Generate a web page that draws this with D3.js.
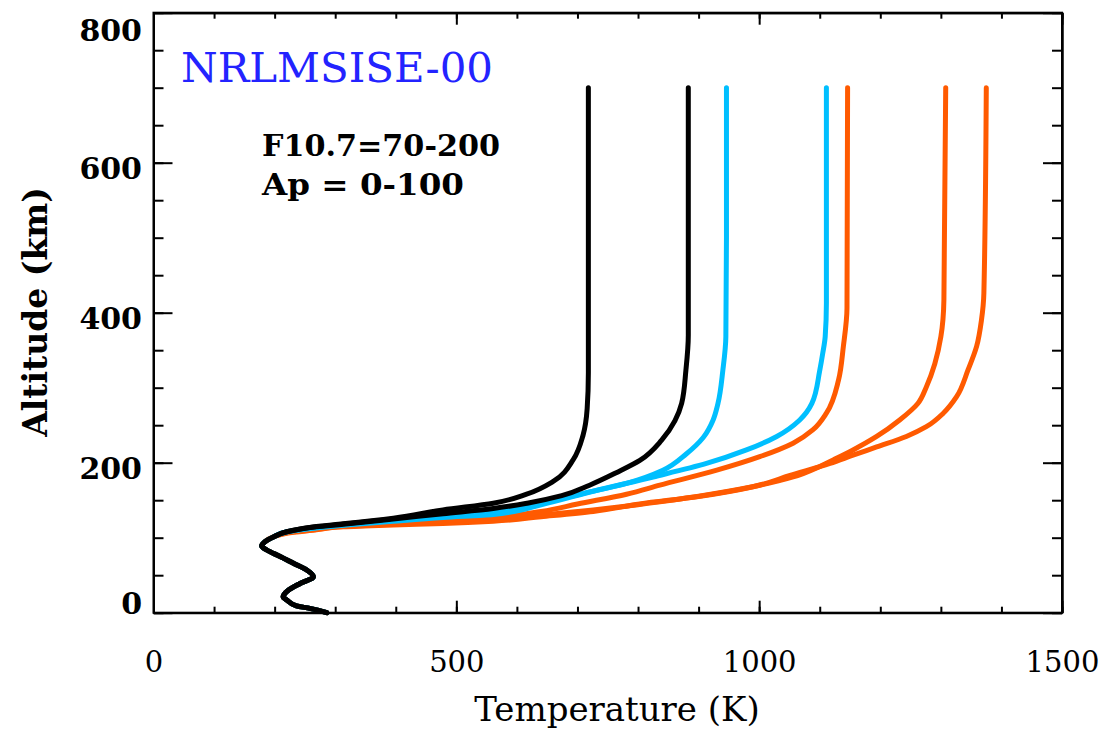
<!DOCTYPE html>
<html>
<head>
<meta charset="utf-8">
<script src="https://cdn.jsdelivr.net/npm/d3@7"></script>
<style>
  html, body { margin: 0; padding: 0; background: #fff; }
  svg { display: block; }
  text { font-family: "DejaVu Serif", "Liberation Serif", serif; }
</style>
</head>
<body>
<svg id="chart" width="1111" height="731"></svg>
<script>
// Temperature profiles (T in K, altitude in km) from NRLMSISE-00.
// Shared troposphere / stratosphere / mesosphere part, identical for all runs.
const lowerAtmosphere = [
  [286, 0], [258, 5.8], [236, 9], [220, 17], [214, 21], [222.6, 30], [242, 39],
  [264, 48], [253, 57], [231, 66], [209, 75], [187, 83.6], [178.6, 89],
  [184, 94.7], [198, 101]
];

// Thermosphere parts, one per solar / geomagnetic condition.
const blackLow = [
  [220, 108], [269, 115], [313, 118.5], [396, 126], [478, 137], [561, 146],
  [616, 158], [660, 175], [693, 204], [709, 236], [716, 272], [718, 320],
  [718, 500], [718, 700]
];
const blackHigh = [
  [220, 108], [269, 114.5], [313, 118], [396, 125], [478, 132], [561, 139],
  [617, 146], [674, 156], [720, 170], [765, 187], [803, 203], [839, 230],
  [861, 256], [872, 279], [879, 323], [883, 370], [883, 500], [883, 700]
];
const blueLow = [
  [220, 108], [269, 113.5], [313, 117], [396, 123.5], [478, 130], [561, 136],
  [640, 146], [704, 158], [781, 172.5], [841, 190], [880, 212], [908, 234],
  [924, 257], [932, 279], [940, 323], [945, 368], [946, 500], [946, 700]
];
const blueHigh = [
  [220, 107.5], [269, 113], [313, 116.5], [396, 122], [478, 127], [561, 131],
  [640, 144], [726, 162], [825, 181], [913, 199], [979, 217], [1029, 235],
  [1067, 257], [1087, 279], [1100, 323], [1105, 346], [1109, 368], [1111, 413],
  [1111, 700]
];
const orangeLow = [
  [220, 107], [269, 112], [313, 116], [396, 119.5], [478, 123], [561, 127],
  [640, 135], [700, 145], [781, 158], [836, 170], [930, 190], [1001, 208],
  [1056, 226], [1089, 244], [1111, 266], [1131, 310], [1139, 355], [1145, 406],
  [1146, 700]
];
const orangeMid = [
  [220, 106.5], [269, 111], [313, 115], [396, 118], [478, 120.5], [561, 123.5],
  [640, 130], [726, 137], [836, 148], [920, 158], [1001, 170], [1056, 181],
  [1100, 195], [1123, 204], [1155, 217], [1194, 235], [1232, 257], [1262, 279],
  [1276, 301], [1290, 332], [1300, 368], [1305, 417], [1308, 700]
];
const orangeHigh = [
  [220, 106], [269, 110.5], [313, 114.5], [396, 117], [478, 119], [561, 122],
  [640, 128], [726, 135], [803, 145], [900, 155], [990, 168], [1051, 183],
  [1117, 199], [1155, 210], [1194, 221], [1243, 235], [1276, 248], [1304, 266],
  [1326, 288], [1345, 324], [1359, 355], [1367, 390], [1371, 426], [1375, 700]
];

// Drawn back to front: hottest runs first, coldest on top.
const profiles = [
  { color: "#ff5a00", upper: orangeHigh },
  { color: "#ff5a00", upper: orangeMid },
  { color: "#ff5a00", upper: orangeLow },
  { color: "#00bfff", upper: blueHigh },
  { color: "#00bfff", upper: blueLow },
  { color: "#000000", upper: blackHigh },
  { color: "#000000", upper: blackLow }
];

const xMajor = [0, 500, 1000, 1500];
const xMinor = d3.range(0, 1501, 100);
const yMajor = [0, 200, 400, 600, 800];
const yMinor = d3.range(0, 801, 50);

const titleText = "NRLMSISE-00";
const noteLines = ["F10.7=70-200", "Ap = 0-100"];
const noteWidths = [238, 202];
const xTitle = "Temperature (K)";
const yTitle = "Altitude (km)";

const margin = { left: 153.5, right: 1062, top: 12.7, bottom: 612.7 };
const svg = d3.select("#chart");
svg.append("rect").attr("width", 1111).attr("height", 731).attr("fill", "#fff");

const x = d3.scaleLinear().domain([0, 1500]).range([margin.left, margin.right]);
const y = d3.scaleLinear().domain([0, 800]).range([margin.bottom, margin.top]);
const intFmt = d3.format("d");

// Profiles
const line = d3.line()
  .x(d => x(d[0]))
  .y(d => y(d[1]))
  .curve(d3.curveMonotoneY);

const curves = svg.append("g");
profiles.forEach(p => {
  curves.append("path")
    .datum(lowerAtmosphere.concat(p.upper))
    .attr("fill", "none")
    .attr("stroke", p.color)
    .attr("stroke-width", 5)
    .attr("stroke-linejoin", "round")
    .attr("stroke-linecap", "round")
    .attr("d", line);
});

// Axes: ticks point inward on all four sides
function styleAxis(g) {
  g.selectAll("path").attr("stroke", "#000").attr("stroke-width", 2);
  g.selectAll("line").attr("stroke", "#000").attr("stroke-width", 2);
}

const bottomY = margin.bottom, topY = margin.top;

svg.append("g").attr("transform", `translate(0,${bottomY})`)
  .call(d3.axisBottom(x).tickValues(xMinor).tickSize(-6).tickSizeOuter(0).tickFormat(""))
  .call(styleAxis);
svg.append("g").attr("transform", `translate(0,${topY})`)
  .call(d3.axisTop(x).tickValues(xMinor).tickSize(-6).tickSizeOuter(0).tickFormat(""))
  .call(styleAxis);
svg.append("g").attr("transform", `translate(0,${topY})`)
  .call(d3.axisTop(x).tickValues(xMajor).tickSize(-12).tickSizeOuter(0).tickFormat(""))
  .call(styleAxis);

const xAxis = svg.append("g").attr("transform", `translate(0,${bottomY})`)
  .call(d3.axisBottom(x).tickValues(xMajor).tickSize(-12).tickSizeOuter(0)
    .tickPadding(38.5).tickFormat(intFmt))
  .call(styleAxis);
xAxis.selectAll("text")
  .attr("font-family", "DejaVu Serif")
  .attr("font-size", 29)
  .attr("fill", "#000");
xAxis.select(".domain").remove();

svg.append("g").attr("transform", `translate(${margin.left},0)`)
  .call(d3.axisLeft(y).tickValues(yMinor).tickSize(-10).tickSizeOuter(0).tickFormat(""))
  .call(styleAxis);
svg.append("g").attr("transform", `translate(${margin.right},0)`)
  .call(d3.axisRight(y).tickValues(yMinor).tickSize(-10).tickSizeOuter(0).tickFormat(""))
  .call(styleAxis);
svg.append("g").attr("transform", `translate(${margin.right},0)`)
  .call(d3.axisRight(y).tickValues(yMajor).tickSize(-19).tickSizeOuter(0).tickFormat(""))
  .call(styleAxis);

const yAxis = svg.append("g").attr("transform", `translate(${margin.left},0)`)
  .call(d3.axisLeft(y).tickValues(yMajor).tickSize(-19).tickSizeOuter(0)
    .tickPadding(11.5).tickFormat(intFmt))
  .call(styleAxis);
// Keep the end labels inside the vertical extent of the frame
yAxis.selectAll(".tick text")
  .attr("font-family", "DejaVu Serif")
  .attr("font-weight", "bold")
  .attr("font-size", 30)
  .attr("fill", "#000")
  .attr("dy", null)
  .attr("y", d => {
    const ty = y(d);
    return Math.max(41, Math.min(613, ty + 15.5)) - ty;
  });

// Frame
svg.append("rect")
  .attr("x", margin.left).attr("y", margin.top)
  .attr("width", margin.right - margin.left)
  .attr("height", margin.bottom - margin.top)
  .attr("fill", "none").attr("stroke", "#000").attr("stroke-width", 2);

// Axis titles
svg.append("text")
  .attr("x", 617).attr("y", 721)
  .attr("text-anchor", "middle")
  .attr("font-size", 34)
  .attr("fill", "#000")
  .text(xTitle);

svg.append("text")
  .attr("transform", "translate(47,312) rotate(-90)")
  .attr("text-anchor", "middle")
  .attr("font-size", 33)
  .attr("font-weight", "bold")
  .attr("fill", "#000")
  .text(yTitle);

// Annotations
svg.append("text")
  .attr("x", 181).attr("y", 81.5)
  .attr("font-size", 41)
  .attr("fill", "#2323ff")
  .attr("textLength", 312)
  .attr("lengthAdjust", "spacingAndGlyphs")
  .text(titleText);

svg.selectAll("text.note")
  .data(noteLines)
  .join("text")
  .attr("class", "note")
  .attr("x", 262)
  .attr("y", (d, i) => 156 + i * 38.5)
  .attr("font-size", 29)
  .attr("font-weight", "bold")
  .attr("fill", "#000")
  .attr("textLength", (d, i) => noteWidths[i])
  .attr("lengthAdjust", "spacingAndGlyphs")
  .text(d => d);
</script>
</body>
</html>
